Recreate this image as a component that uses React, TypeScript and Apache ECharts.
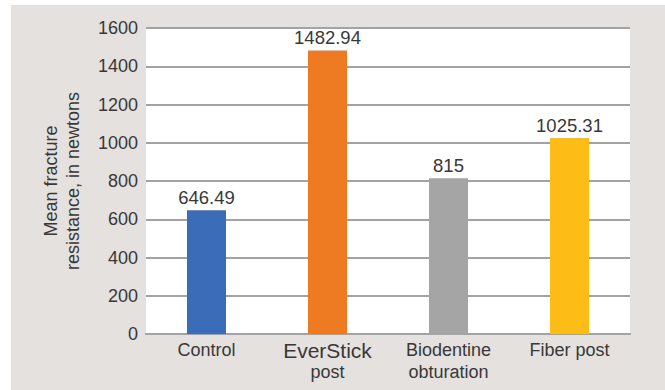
import React, { useEffect, useRef } from "react";
import * as echarts from "echarts";

const categories = ["Control", "EverStick\npost", "Biodentine\nobturation", "Fiber post"];
const values = [646.49, 1482.94, 815, 1025.31];
const valueLabels = ["646.49", "1482.94", "815", "1025.31"];
const barColors = ["#3b6cb7", "#ee7b22", "#a5a5a5", "#fdbd16"];
const yTicks = [0, 200, 400, 600, 800, 1000, 1200, 1400, 1600];

export default function App() {
  const ref = useRef<HTMLDivElement>(null);
  useEffect(() => {
    document.body.style.margin = "0";
    const chart = echarts.init(ref.current!, undefined, { renderer: "svg" });
    const font = "Liberation Sans, Arial, sans-serif";
    chart.setOption({
      animation: false,
      backgroundColor: "#ffffff",
      graphic: [
        {
          type: "rect",
          z: -10,
          silent: true,
          shape: { x: 11, y: 5, width: 660, height: 390 },
          style: { fill: "#e5e1de" },
        },
      ],
      grid: {
        left: 146,
        right: 35,
        top: 28,
        bottom: 56,
        show: true,
        backgroundColor: "#ffffff",
        borderWidth: 0,
        z: 0,
      },
      xAxis: {
        type: "category",
        data: categories,
        axisTick: { show: false },
        axisLine: { lineStyle: { color: "#a3a3a3", width: 2 } },
        axisLabel: {
          interval: 0,
          margin: 5,
          color: "#383838",
          fontFamily: font,
          formatter: (v: string) => {
            const parts = v.split("\n");
            if (parts[0] === "EverStick") {
              return "{big|" + parts[0] + "}\n{n|" + parts[1] + "}";
            }
            return parts.map((p) => "{n|" + p + "}").join("\n");
          },
          rich: {
            n: { fontSize: 18, lineHeight: 22, color: "#383838", fontFamily: font },
            big: { fontSize: 21, lineHeight: 22, color: "#383838", fontFamily: font },
          },
        },
      },
      yAxis: {
        type: "value",
        min: 0,
        max: 1600,
        interval: 200,
        name: "Mean fracture\nresistance, in newtons",
        nameLocation: "middle",
        nameGap: 62,
        nameRotate: 90,
        nameTextStyle: {
          fontSize: 18,
          lineHeight: 22,
          color: "#383838",
          fontFamily: font,
        },
        axisLine: { show: false },
        axisTick: { show: false },
        axisLabel: {
          margin: 8,
          fontSize: 18,
          color: "#383838",
          fontFamily: font,
          formatter: (v: number) => (yTicks.includes(v) ? String(v) : ""),
        },
        splitLine: { lineStyle: { color: "#a3a3a3", width: 2 } },
      },
      series: [
        {
          type: "bar",
          barWidth: 39,
          data: values.map((v, i) => ({
            value: v,
            itemStyle: { color: barColors[i] },
            label: { formatter: valueLabels[i] },
          })),
          label: {
            show: true,
            position: "top",
            distance: 3,
            fontSize: 18.5,
            color: "#383838",
            fontFamily: font,
          },
        },
      ],
    });
    return () => chart.dispose();
  }, []);
  return <div ref={ref} style={{ width: 665, height: 390 }} />;
}
